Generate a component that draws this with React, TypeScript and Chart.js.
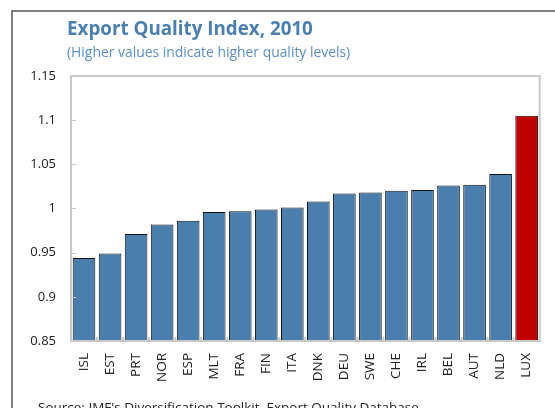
import React, { useEffect, useRef } from "react";
import { Chart, registerables } from "chart.js";

Chart.register(...registerables);

const categories = ["ISL", "EST", "PRT", "NOR", "ESP", "MLT", "FRA", "FIN", "ITA", "DNK", "DEU", "SWE", "CHE", "IRL", "BEL", "AUT", "NLD", "LUX"];
const qualityValues = [0.944, 0.949, 0.971, 0.982, 0.986, 0.996, 0.997, 0.999, 1.001, 1.008, 1.017, 1.018, 1.020, 1.021, 1.026, 1.027, 1.039, 1.105];
const highlighted = ["LUX"];
const yTicks = [0.85, 0.9, 0.95, 1, 1.05, 1.1, 1.15];

const titleText = "Export Quality Index, 2010";
const subtitleText = "(Higher values indicate higher quality levels)";
const sourceText = "Source: IMF's Diversification Toolkit, Export Quality Database";

const FONT = "'Open Sans', 'Noto Sans', sans-serif";

const decorPlugin = {
  id: "decor",
  afterDraw(chart: any) {
    const ctx = chart.ctx;
    const { left, right, top, bottom } = chart.chartArea;
    const y = chart.scales.y;
    const x = chart.scales.x;
    ctx.save();
    // outer frame
    ctx.strokeStyle = "#808080";
    ctx.lineWidth = 2;
    ctx.beginPath();
    ctx.moveTo(12, 420);
    ctx.lineTo(12, 11);
    ctx.lineTo(570, 11);
    ctx.stroke();
    // plot box
    ctx.strokeStyle = "#c8c8c8";
    ctx.lineWidth = 2;
    ctx.strokeRect(left, top, right - left, bottom - top);
    // inward y ticks
    ctx.lineWidth = 1;
    yTicks.forEach((v) => {
      const py = Math.round(y.getPixelForValue(v)) + 0.5;
      ctx.beginPath();
      ctx.moveTo(left, py);
      ctx.lineTo(left + 5, py);
      ctx.stroke();
    });
    // inward x ticks at category boundaries
    ctx.lineWidth = 2;
    for (let i = 1; i < categories.length; i++) {
      const px = (x.getPixelForValue(i - 1) + x.getPixelForValue(i)) / 2;
      ctx.beginPath();
      ctx.moveTo(px, bottom);
      ctx.lineTo(px, bottom - 4);
      ctx.stroke();
    }
    // texts
    ctx.textBaseline = "alphabetic";
    ctx.textAlign = "left";
    ctx.fillStyle = "#4a7fb0";
    ctx.font = `bold 18.8px ${FONT}`;
    ctx.fillText(titleText, 67, 35);
    ctx.fillStyle = "#5b8fc2";
    ctx.font = `13.9px ${FONT}`;
    ctx.fillText(subtitleText, 67, 57);
    ctx.fillStyle = "#222222";
    ctx.font = `13.5px ${FONT}`;
    ctx.fillText(sourceText, 38, 412);
    ctx.restore();
  },
};

export default function App() {
  const ref = useRef<HTMLCanvasElement>(null);
  useEffect(() => {
    document.body.style.margin = "0";
    const canvas = ref.current!;
    const chart = new Chart(canvas, {
      type: "bar",
      data: {
        labels: categories,
        datasets: [
          {
            data: qualityValues,
            backgroundColor: categories.map((c) => (highlighted.includes(c) ? "#c00000" : "#4a7fad")),
            borderColor: "#111111",
            borderWidth: 1,
            barPercentage: 0.87,
            categoryPercentage: 1,
          },
        ],
      },
      options: {
        animation: false,
        responsive: false,
        devicePixelRatio: 1,
        layout: { padding: { top: 76, left: 0, right: 6, bottom: 0 } },
        plugins: { legend: { display: false }, tooltip: { enabled: false }, title: { display: false } },
        scales: {
          x: {
            grid: { display: false, drawTicks: false },
            border: { display: false },
            ticks: {
              minRotation: 90,
              maxRotation: 90,
              autoSkip: false,
              padding: 12,
              color: "#222",
              font: { family: FONT, size: 13.5 },
            },
            afterFit: (s: any) => {
              s.height = 67;
            },
          },
          y: {
            min: 0.85,
            max: 1.15,
            grid: { display: false, drawTicks: false },
            border: { display: false },
            afterBuildTicks: (s: any) => {
              s.ticks = yTicks.map((v) => ({ value: v }));
            },
            afterFit: (s: any) => {
              s.width = 71;
            },
            ticks: {
              padding: 15,
              color: "#222",
              font: { family: FONT, size: 13 },
              callback: (v: any) => String(+Number(v).toFixed(2)),
            },
          },
        },
      },
      plugins: [decorPlugin],
    });
    return () => chart.destroy();
  }, []);
  return (
    <div style={{ position: "fixed", left: 0, top: 0, width: 555, height: 408 }}>
      <canvas ref={ref} width={555} height={408} style={{ width: 555, height: 408 }} />
    </div>
  );
}
